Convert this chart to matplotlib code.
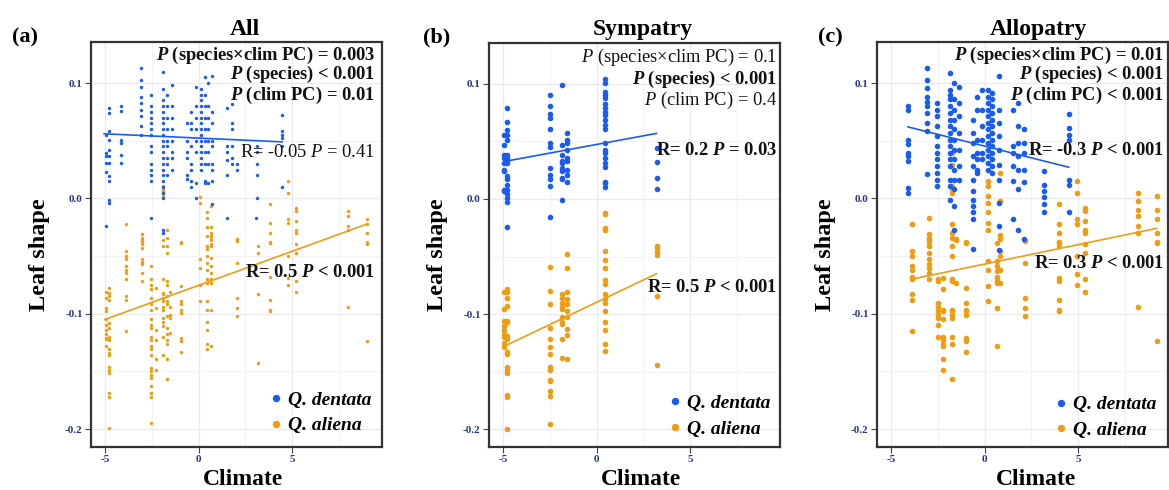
import numpy as np
import matplotlib
matplotlib.use("Agg")
import matplotlib.pyplot as plt
from matplotlib.lines import Line2D

plt.rcParams['font.family'] = 'Liberation Serif'
plt.rcParams['mathtext.fontset'] = 'custom'
plt.rcParams['mathtext.rm'] = 'Liberation Serif'
plt.rcParams['mathtext.it'] = 'Liberation Serif:italic'
plt.rcParams['mathtext.bf'] = 'Liberation Serif:bold:italic'

BLUE = '#1a5cf0'
ORANGE = '#f09c12'

# ---------------- data ----------------
# (a) All
all_dentata_cols = [-4.97, -4.78, -4.17, -3.1, -2.57, -1.89, -1.68, -1.41, -0.64, -0.39,
                    -0.16, 0.11, 0.32, 0.5, 0.73, 1.53, 1.76, 2.07, 3.05, 3.14, 4.48]
all_dentata_y = [
    [0.055, 0.039, 0.037, 0.031, 0.023, -0.024],
    [0.078, 0.074, 0.058, 0.051, 0.042, 0.037, 0.031, 0.019, 0.015, -0.001, -0.004],
    [0.080, 0.076, 0.051, 0.048, 0.038, 0.031],
    [0.113, 0.103, 0.097, 0.088, 0.083, 0.077, 0.071, 0.063, 0.055],
    [0.090, 0.080, 0.075, 0.070, 0.065, 0.060, 0.055, 0.045, 0.040, 0.030, 0.025, 0.020, 0.015, -0.017],
    [0.110, 0.095, 0.085, 0.080, 0.075, 0.070, 0.065, 0.060, 0.055, 0.050, 0.045, 0.040, 0.035,
     0.030, 0.025, 0.020, 0.015, 0.010, 0.005, 0.0, -0.027, -0.030],
    [0.090, 0.080, 0.070, 0.060, 0.050, 0.045, 0.035, 0.030, 0.020],
    [0.098, 0.080, 0.070, 0.060, 0.050, 0.040, 0.035, 0.025],
    [0.065, 0.050, 0.040, 0.035, 0.020, 0.017],
    [0.075, 0.065, 0.060, 0.045, 0.030, 0.025, 0.015, 0.010],
    [0.097, 0.080, 0.070, 0.060, 0.050, 0.040, 0.013, 0.0],
    [0.095, 0.090, 0.085, 0.080, 0.075, 0.070, 0.065, 0.060, 0.055, 0.050, 0.045, 0.040, 0.035, 0.030, 0.025],
    [0.105, 0.090, 0.080, 0.070, 0.060, 0.050, 0.040, 0.030, 0.015, 0.013],
    [0.100, 0.080, 0.070, 0.060, 0.050, 0.040, 0.030, 0.013],
    [0.106, 0.075, 0.065, 0.050, 0.045, 0.030, 0.025, 0.015, -0.005],
    [0.078, 0.045, 0.040, 0.033, 0.020, -0.017],
    [0.082, 0.065, 0.060, 0.045, 0.035, 0.030],
    [0.030, 0.025],
    [-0.017],
    [0.045, 0.040, 0.030, 0.020, 0.0],
    [0.072, 0.058, 0.055, 0.052, 0.045, 0.010],
]
all_aliena_cols = [-4.97, -4.78, -3.9, -3.04, -2.57, -2.25, -1.89, -1.68, -1.53, -0.96, 0.07, 0.46,
                   0.64, 2.07, 3.2, 3.8, 4.8, 5.2, 8.0, 9.0]
all_aliena_y = [
    [-0.081, -0.086, -0.095, -0.098, -0.105, -0.110, -0.114, -0.118, -0.121, -0.122, -0.128],
    [-0.078, -0.082, -0.085, -0.088, -0.108, -0.112, -0.120, -0.123, -0.131, -0.134, -0.136,
     -0.146, -0.149, -0.151, -0.169, -0.172, -0.199],
    [-0.022, -0.046, -0.050, -0.053, -0.059, -0.062, -0.065, -0.070, -0.085, -0.088, -0.115],
    [-0.031, -0.034, -0.035, -0.038, -0.043, -0.037, -0.040, -0.053, -0.055, -0.056, -0.057, -0.065, -0.072],
    [-0.059, -0.070, -0.075, -0.079, -0.086, -0.092, -0.097, -0.105, -0.110, -0.112, -0.120, -0.123,
     -0.128, -0.131, -0.136, -0.147, -0.150, -0.153, -0.156, -0.163, -0.169, -0.172, -0.195],
    [-0.078, -0.095, -0.114, -0.123, -0.139, -0.149],
    [0.011, 0.008, 0.006, 0.005, 0.002, -0.036, -0.041, -0.070, -0.082, -0.083, -0.086, -0.089,
     -0.094, -0.097, -0.104, -0.107, -0.111, -0.120, -0.136],
    [-0.027, -0.034, -0.041, -0.047, -0.072, -0.075, -0.085, -0.089, -0.092, -0.102, -0.112, -0.118,
     -0.123, -0.126, -0.139, -0.157],
    [-0.081, -0.094, -0.101, -0.104, -0.117],
    [-0.038, -0.039, -0.076, -0.089, -0.092, -0.097, -0.099, -0.121, -0.124, -0.133],
    [0.001, -0.004, -0.053, -0.060, -0.075, -0.089],
    [-0.012, -0.017, -0.025, -0.033, -0.041, -0.044, -0.050, -0.056, -0.062, -0.070, -0.073, -0.089,
     -0.097, -0.107, -0.114, -0.126, -0.131],
    [-0.007, -0.025, -0.030, -0.033, -0.035, -0.041, -0.036, -0.040, -0.052, -0.059, -0.065, -0.070,
     -0.073, -0.097, -0.128],
    [-0.035, -0.037, -0.056, -0.086, -0.095, -0.102],
    [-0.041, -0.047, -0.083, -0.143],
    [-0.005, -0.021, -0.030, -0.038, -0.039, -0.068, -0.088, -0.097, -0.098],
    [0.015, 0.005, -0.018, -0.021, -0.050, -0.069, -0.075],
    [-0.008, -0.011, -0.020, -0.027, -0.030, -0.040, -0.047, -0.072, -0.081],
    [-0.011, -0.015, -0.024, -0.027, -0.094],
    [-0.018, -0.022, -0.030, -0.038, -0.040, -0.124],
]

# (b) Sympatry
sym_dentata_cols = [-4.97, -4.8, -2.5, -1.84, -1.57, 0.43, 3.25]
sym_dentata_y = [
    [0.056, 0.047, 0.038, 0.036, 0.031, 0.025, 0.024, 0.008, 0.007],
    [0.079, 0.067, 0.060, 0.056, 0.051, 0.038, 0.036, 0.033, 0.031, 0.020, 0.017, 0.012, 0.008,
     0.004, 0.001, -0.003, -0.024],
    [0.090, 0.081, 0.074, 0.070, 0.061, 0.049, 0.045, 0.027, 0.021, 0.017, 0.011, -0.016],
    [0.099, 0.047, 0.038, 0.033, 0.031, 0.027, 0.024, 0.018, 0.017, -0.001],
    [0.057, 0.051, 0.049, 0.043, 0.036, 0.033, 0.025, 0.021, 0.015],
    [0.104, 0.101, 0.093, 0.090, 0.088, 0.083, 0.079, 0.076, 0.073, 0.069, 0.064, 0.061, 0.049,
     0.043, 0.040, 0.036, 0.031, 0.028, 0.015, 0.014, 0.010],
    [0.044, 0.032, 0.018, 0.009],
]
sym_aliena_cols = [-4.97, -4.8, -2.5, -1.84, -1.57, 0.43, 3.25]
sym_aliena_y = [
    [-0.081, -0.096, -0.106, -0.110, -0.114, -0.117, -0.120, -0.125, -0.129],
    [-0.078, -0.081, -0.086, -0.093, -0.106, -0.107, -0.119, -0.122, -0.133, -0.135, -0.146,
     -0.149, -0.151, -0.170, -0.172, -0.200],
    [-0.059, -0.080, -0.091, -0.112, -0.122, -0.129, -0.135, -0.146, -0.149, -0.157, -0.158,
     -0.167, -0.171, -0.196],
    [-0.083, -0.086, -0.090, -0.094, -0.096, -0.103, -0.107, -0.109, -0.122, -0.138],
    [-0.048, -0.060, -0.081, -0.087, -0.091, -0.097, -0.103, -0.113, -0.118, -0.139],
    [-0.012, -0.013, -0.025, -0.027, -0.045, -0.053, -0.060, -0.070, -0.074, -0.083, -0.087,
     -0.090, -0.097, -0.107, -0.114, -0.126, -0.132],
    [-0.041, -0.043, -0.046, -0.049, -0.084, -0.144],
]

# (c) Allopatry
allo_dentata_cols = [-4.1, -3.08, -2.54, -1.86, -1.65, -1.38, -0.61, -0.38, -0.13, 0.2, 0.38,
                     0.77, 1.54, 1.81, 2.08, 3.15, 4.5]
allo_dentata_y = [
    [0.080, 0.077, 0.051, 0.047, 0.039, 0.037, 0.032, 0.009, 0.005],
    [0.113, 0.103, 0.096, 0.088, 0.084, 0.080, 0.074, 0.065, 0.058, 0.021],
    [0.083, 0.077, 0.071, 0.063, 0.054, 0.045, 0.039, 0.034, 0.028, 0.022, 0.016, 0.011],
    [0.109, 0.094, 0.090, 0.086, 0.080, 0.074, 0.068, 0.063, 0.057, 0.051, 0.045, 0.039, 0.034,
     0.028, 0.016, 0.011, -0.001],
    [0.100, 0.086, 0.077, 0.068, 0.060, 0.051, 0.042, 0.034, 0.025, 0.016, 0.008, -0.007, -0.027],
    [0.097, 0.083, 0.071, 0.057, 0.042, 0.028, 0.016],
    [0.068, 0.057, 0.048, 0.037, 0.028, 0.016, 0.006, -0.001, -0.007, -0.012, -0.018, -0.044],
    [0.088, 0.077, 0.051, 0.039, 0.034, 0.025, 0.022],
    [0.094, 0.077, 0.063, 0.051, 0.039, 0.034],
    [0.094, 0.088, 0.083, 0.077, 0.071, 0.065, 0.060, 0.054, 0.048, 0.042, 0.037, 0.031, 0.025],
    [0.091, 0.086, 0.080, 0.074, 0.068, 0.063, 0.057, 0.051, 0.045, 0.039, 0.034, 0.028, 0.022],
    [0.106, 0.077, 0.065, 0.054, 0.042, 0.029, 0.016, -0.004, -0.024, -0.045],
    [0.077, 0.045, 0.039, 0.028, 0.015, -0.018],
    [0.083, 0.063, 0.048, 0.037, 0.025, 0.008, -0.027],
    [0.060, 0.048, 0.039, 0.025, 0.014, -0.035],
    [0.024, 0.012, 0.006, 0.001, -0.005, -0.012],
    [0.073, 0.061, 0.055, 0.051, 0.016, 0.012, -0.012],
]
allo_aliena_cols = [-3.87, -2.97, -2.49, -2.22, -1.74, -1.54, -0.97, 0.2, 0.65, 0.82, 2.15,
                    3.96, 4.95, 5.36, 8.2, 9.2]
allo_aliena_y = [
    [-0.022, -0.046, -0.050, -0.059, -0.062, -0.068, -0.070, -0.083, -0.088, -0.115],
    [-0.017, -0.031, -0.034, -0.038, -0.036, -0.041, -0.047, -0.053, -0.057, -0.060, -0.065, -0.070],
    [-0.070, -0.072, -0.091, -0.094, -0.098, -0.101, -0.104, -0.110, -0.120],
    [-0.069, -0.079, -0.097, -0.098, -0.105, -0.120, -0.123, -0.126, -0.128, -0.139, -0.149],
    [0.039, 0.029, 0.011, 0.008, 0.005, -0.022, -0.030, -0.034, -0.041, -0.050, -0.070, -0.072,
     -0.097, -0.098, -0.101, -0.104, -0.120, -0.126, -0.157],
    [-0.035, -0.036, -0.073],
    [-0.038, -0.039, -0.078, -0.091, -0.097, -0.098, -0.101, -0.121, -0.124, -0.133],
    [0.047, 0.015, 0.011, 0.002, -0.004, -0.012, -0.021, -0.027, -0.054, -0.062, -0.076, -0.089],
    [-0.039, -0.054, -0.059, -0.063, -0.068, -0.069, -0.072, -0.073, -0.095, -0.128],
    [0.022, -0.002, -0.032, -0.035, -0.046, -0.050, -0.062, -0.073],
    [-0.037, -0.056, -0.086, -0.095, -0.102],
    [-0.005, -0.022, -0.030, -0.038, -0.039, -0.041, -0.069, -0.072, -0.088, -0.097, -0.098],
    [0.015, 0.005, -0.018, -0.022, -0.050, -0.066, -0.075],
    [-0.008, -0.011, -0.020, -0.027, -0.030, -0.040, -0.047, -0.070, -0.081],
    [0.005, -0.002, -0.010, -0.015, -0.024, -0.030, -0.094],
    [0.002, -0.010, -0.018, -0.030, -0.038, -0.039, -0.124],
]

# fitted lines (end points)
all_fit_dentata = ([-5.05, 4.46], [0.056, 0.049])
all_fit_aliena = ([-5.0, 9.04], [-0.105, -0.022])
sym_fit_dentata = ([-4.8, 3.2], [0.033, 0.057])
sym_fit_aliena = ([-4.8, 3.2], [-0.127, -0.065])
allo_fit_dentata = ([-4.1, 4.5], [0.062, 0.027])
allo_fit_aliena = ([-3.87, 9.2], [-0.070, -0.026])

panel_titles = ['All', 'Sympatry', 'Allopatry']
panel_letters = ['(a)', '(b)', '(c)']
species = ['Q. dentata', 'Q. aliena']

# stats text: (string, bold?)
all_stats = [(r"$\mathbf{P}$ (species×clim PC) = 0.003", True),
             (r"$\mathbf{P}$ (species) < 0.001", True),
             (r"$\mathbf{P}$ (clim PC) = 0.01", True)]
sym_stats = [(r"$\mathit{P}$ (species×clim PC) = 0.1", False),
             (r"$\mathbf{P}$ (species) < 0.001", True),
             (r"$\mathit{P}$ (clim PC) = 0.4", False)]
allo_stats = [(r"$\mathbf{P}$ (species×clim PC) = 0.01", True),
              (r"$\mathbf{P}$ (species) < 0.001", True),
              (r"$\mathbf{P}$ (clim PC) < 0.001", True)]
all_r = [(r"R= -0.05 $\mathit{P}$ = 0.41", False), (r"R= 0.5 $\mathbf{P}$ < 0.001", True)]
sym_r = [(r"R= 0.2 $\mathbf{P}$ = 0.03", True), (r"R= 0.5 $\mathbf{P}$ < 0.001", True)]
allo_r = [(r"R= -0.3 $\mathbf{P}$ < 0.001", True), (r"R= 0.3 $\mathbf{P}$ < 0.001", True)]


def expand(cols, ys):
    x = np.repeat(cols, [len(c) for c in ys])
    y = np.concatenate([np.array(c, dtype=float) for c in ys])
    return x, y


W, H = 1169, 490
fig = plt.figure(figsize=(W / 100, H / 100), dpi=100)

# axes boxes in pixels: left, top, right, bottom
boxes = [(91, 42, 382, 447), (489, 43, 780, 447), (877, 42, 1168, 447)]
panels = [
    (all_dentata_cols, all_dentata_y, all_aliena_cols, all_aliena_y, all_fit_dentata, all_fit_aliena,
     all_stats, all_r, [0.968, 0.919, 0.869], [0.728, 0.430], 0.976, 6),
    (sym_dentata_cols, sym_dentata_y, sym_aliena_cols, sym_aliena_y, sym_fit_dentata, sym_fit_aliena,
     sym_stats, sym_r, [0.965, 0.911, 0.859], [0.735, 0.394], 0.990, 16),
    (allo_dentata_cols, allo_dentata_y, allo_aliena_cols, allo_aliena_y, allo_fit_dentata, allo_fit_aliena,
     allo_stats, allo_r, [0.968, 0.919, 0.869], [0.733, 0.452], 0.986, 16),
]
title_x = [245, 643, 1038]
letter_x = [25, 437, 830]
ylab_x = [39, 437, 826]
legend_anchor = [(0.59, 0.012), (0.593, 0.003), (0.585, 0.0)]

for i, (box, p) in enumerate(zip(boxes, panels)):
    l, t, r, b = box
    ax = fig.add_axes([l / W, 1 - b / H, (r - l) / W, (b - t) / H])
    dcols, dy, acols, ay, fd, fa, stats, rtxt, sy, ry, tx, size = p

    ax.set_xlim(-5.75, 9.8)
    ax.set_ylim(-0.2156, 0.1356)
    ax.set_xticks([-5, 0, 5])
    ax.set_yticks([-0.2, -0.1, 0.0, 0.1])
    ax.set_xticks([-2.5, 2.5, 7.5], minor=True)
    ax.set_yticks([-0.15, -0.05, 0.05], minor=True)
    ax.set_xticklabels(['-5', '0', '5'])
    ax.set_yticklabels(['-0.2', '-0.1', '0.0', '0.1'])
    ax.grid(which='major', color='#ebebeb', lw=1.0, zorder=0)
    ax.grid(which='minor', color='#f3f3f3', lw=0.8, zorder=0)
    ax.tick_params(which='minor', length=0)
    ax.tick_params(which='major', length=4, width=0.8, color='#444444', labelsize=8,
                   labelcolor='#26358a', pad=2)
    for lab in ax.get_xticklabels() + ax.get_yticklabels():
        lab.set_fontweight('bold')
    for sp in ax.spines.values():
        sp.set_color('#333333')
        sp.set_linewidth(1.6)
    ax.set_axisbelow(True)

    x1, y1 = expand(dcols, dy)
    x2, y2 = expand(acols, ay)
    ax.scatter(x2, y2, s=size, color=ORANGE, lw=0, zorder=2)
    ax.scatter(x1, y1, s=size, color=BLUE, lw=0, zorder=3)
    ax.plot(fd[0], fd[1], color=BLUE, lw=1.2, zorder=4)
    ax.plot(fa[0], fa[1], color=ORANGE, lw=1.2, zorder=4)

    for (s, bold), yy in zip(stats, sy):
        ax.text(tx, yy, s, transform=ax.transAxes, ha='right', va='center', fontsize=13.3,
                fontweight='bold' if bold else 'normal', color='#111111', zorder=5)
    for (s, bold), yy in zip(rtxt, ry):
        ax.text(tx, yy, s, transform=ax.transAxes, ha='right', va='center', fontsize=13.3,
                fontweight='bold' if bold else 'normal', color='#111111', zorder=5)

    handles = [Line2D([], [], marker='o', ls='', color=BLUE, markersize=4.3),
               Line2D([], [], marker='o', ls='', color=ORANGE, markersize=4.3)]
    ax.legend(handles, species, loc='lower left', bbox_to_anchor=legend_anchor[i],
              frameon=False, handlelength=0.6, handletextpad=0.3, labelspacing=0.42, borderaxespad=0,
              prop={'family': 'Liberation Serif', 'style': 'italic', 'weight': 'bold', 'size': 14})

    fig.text(title_x[i] / W, 1 - 35 / H, panel_titles[i], ha='center', va='baseline',
             fontsize=17, fontweight='bold')
    fig.text(letter_x[i] / W, 1 - 37 / H, panel_letters[i], ha='center', va='center',
             fontsize=16, fontweight='bold')
    fig.text(ylab_x[i] / W, 1 - 255 / H, 'Leaf shape', ha='center', va='center', rotation=90,
             fontsize=17.5, fontweight='bold')
    fig.text((title_x[i] - 2) / W, 1 - 479 / H, 'Climate', ha='center', va='center',
             fontsize=17, fontweight='bold')

fig.savefig('out.png', dpi=100)
